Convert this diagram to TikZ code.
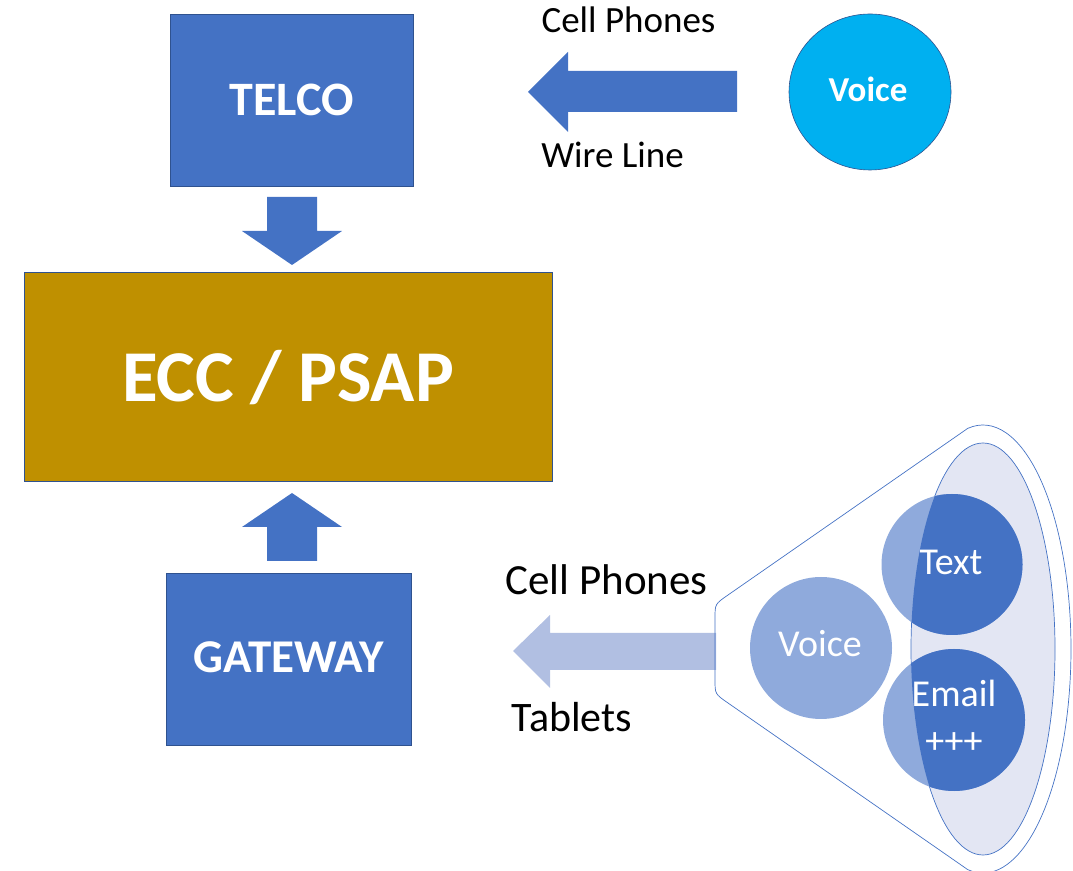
\documentclass[tikz,border=0pt]{standalone}
\usepackage{fontspec}
\setmainfont{Carlito}
\usetikzlibrary{shapes.geometric}
\definecolor{boxblue}{HTML}{4472C4}
\definecolor{boxedge}{HTML}{2F528F}
\definecolor{gold}{HTML}{BF9000}
\definecolor{skyblue}{HTML}{00B0F0}
\definecolor{softblue}{HTML}{8FAADC}
\definecolor{paleblue}{HTML}{B1BFE2}
\definecolor{lavender}{HTML}{E3E6F3}
\tikzset{
  blockbox/.style={draw=boxedge, line width=0.8pt, fill=boxblue, text=white, font=\bfseries\fontsize{48}{56}\selectfont},
  biglabel/.style={text=black, anchor=base},
  fatarrow/.style={fill=boxblue, draw=none},
  bubble/.style={circle, fill=softblue, draw=none, inner sep=0pt},
  bubbletext/.style={text=white, font=\fontsize{38}{46}\selectfont, anchor=base},
}
\begin{document}
\begin{tikzpicture}[x=1pt,y=1pt]
\useasboundingbox (0,0) rectangle (1073,870);

% Boxes
\node[blockbox, minimum width=243pt, minimum height=172pt] (telcobox) at (291.5,770) {};
\node[text=white, font=\bfseries\fontsize{48}{56}\selectfont, anchor=base] (telco) at (291.5,754) {TELCO};

\node[draw=boxedge, line width=0.8pt, fill=gold, minimum width=528pt, minimum height=209pt] (eccbox) at (288,493.5) {};
\node[text=white, font=\bfseries\fontsize{73}{84}\selectfont, anchor=base] (ecc) at (288,468) {ECC / PSAP};

\node[blockbox, minimum width=245pt, minimum height=172pt] (gatebox) at (288.5,211) {};
\node[text=white, font=\bfseries\fontsize{47}{56}\selectfont, anchor=base] (gate) at (288.5,197) {GATEWAY};

% Down arrow TELCO -> ECC
\fill[fatarrow] (267,673) -- (317,673) -- (317,639) -- (342,639) -- (292,605) -- (242,639) -- (267,639) -- cycle;
% Up arrow GATEWAY -> ECC
\fill[fatarrow] (267,309) -- (317,309) -- (317,343) -- (342,343) -- (292,377) -- (242,343) -- (267,343) -- cycle;

% Top right: voice circle and arrow
\node[ellipse, draw=boxedge, line width=0.6pt, fill=skyblue, minimum width=162pt, minimum height=156pt, inner sep=0pt] (voicetop) at (870,778) {};
\node[text=white, font=\bfseries\fontsize{35}{42}\selectfont, anchor=base] (voicetoptext) at (868,768) {Voice};
\fill[fatarrow] (737,799) -- (568,799) -- (568,818) -- (528,778) -- (568,738) -- (568,758) -- (737,758) -- cycle;
\node[biglabel, font=\fontsize{37}{44}\selectfont] (cell1) at (628.5,837) {Cell Phones};
\node[biglabel, font=\fontsize{37}{44}\selectfont] (wire) at (612.5,702) {Wire Line};

% Bottom arrow
\fill[paleblue] (716,237) -- (550,237) -- (550,255) -- (513,219) -- (550,182) -- (550,200) -- (716,200) -- cycle;
\node[biglabel, font=\fontsize{43}{50}\selectfont] (cell2) at (606.5,275) {Cell Phones};
\node[biglabel, font=\fontsize{42}{50}\selectfont] (tablets) at (572,138) {Tablets};

% Funnel
\draw[boxblue, line width=0.7pt] (967.7,441.6) -- (728,275) .. controls (715,266) and (715,266) .. (715,252)
  -- (715,190) .. controls (715,176) and (715,176) .. (728,167) -- (967.7,0.4)
  arc[start angle=-100, end angle=100, x radius=88, y radius=224] -- cycle;
\draw[boxblue, line width=0.7pt, fill=lavender] (983,221) ellipse[x radius=72, y radius=206];

\node[bubble, minimum size=142pt] (bvoice) at (821,222) {};
\node[bubble, minimum size=141pt] (btext) at (952,305.5) {};
\node[bubble, minimum size=142pt] (bemail) at (954,150) {};
\begin{scope}
  \clip (983,221) ellipse[x radius=72, y radius=206];
  \fill[boxblue] (952,305.5) circle[radius=70.5];
  \fill[boxblue] (954,150) circle[radius=71];
\end{scope}
\node[bubbletext] (tvoice) at (820,213) {Voice};
\node[bubbletext] (ttext) at (951,295) {Text};
\node[bubbletext] (temail) at (954,163) {Email};
\node[bubbletext] (tplus) at (954,117) {+++};
\end{tikzpicture}
\end{document}
